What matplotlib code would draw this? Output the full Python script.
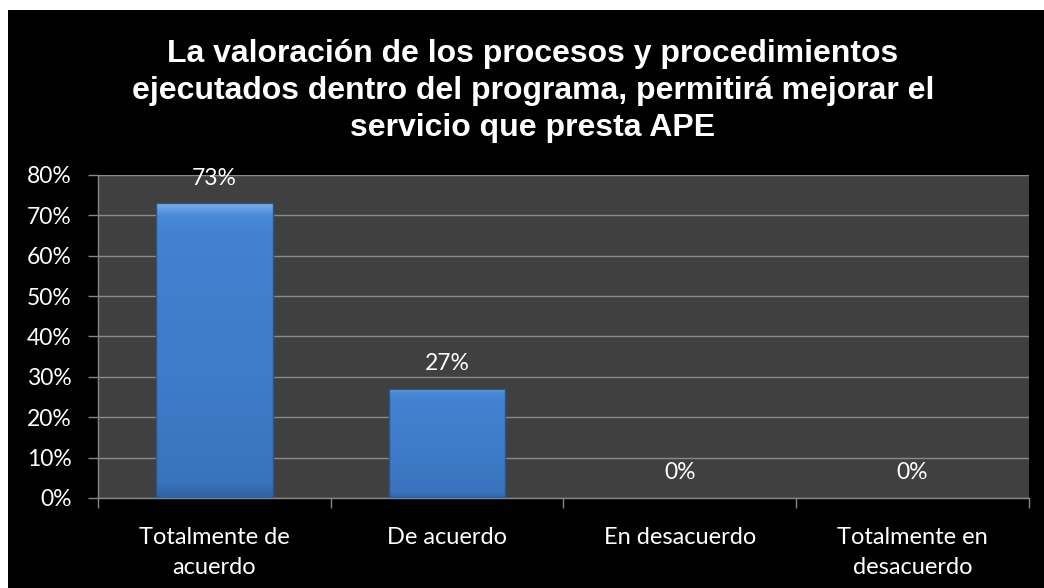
import numpy as np
import matplotlib
matplotlib.use("Agg")
import matplotlib.pyplot as plt
from matplotlib.patches import Rectangle
from matplotlib.ticker import PercentFormatter

# datos del grafico
categorias = ["Totalmente de\nacuerdo", "De acuerdo", "En desacuerdo", "Totalmente en\ndesacuerdo"]
valores = [0.73, 0.27, 0.0, 0.0]
etiquetas = ["73%", "27%", "0%", "0%"]
titulo = ("La valoración de los procesos y procedimientos\n"
          "ejecutados dentro del programa, permitirá mejorar el\n"
          "servicio que presta APE")

plt.rcParams['font.family'] = ['Lato', 'DejaVu Sans']

fig = plt.figure(figsize=(10.44, 5.88), dpi=100, facecolor="white")
# fondo negro del grafico (borde blanco arriba e izquierda)
fig.patches.append(Rectangle((8 / 1044, 0), 1, 1 - 10 / 588, transform=fig.transFigure,
                             facecolor="black", edgecolor="none", zorder=-5))

ax = fig.add_axes([0.0939, 0.1531, 0.8917, 0.5493])
ax.set_facecolor("#404040")

x = np.arange(len(categorias))
barras = ax.bar(x, valores, width=0.5, color="#3f7ecb", edgecolor="#2b5487",
                linewidth=0.8, zorder=3)

# degradado vertical sobre cada barra (efecto bisel de Excel)
grad = np.linspace(0, 1, 256).reshape(-1, 1)
cmap = matplotlib.colors.LinearSegmentedColormap.from_list(
    "azul", [(0, "#7ab0ee"), (0.04, "#4a8ad8"), (0.1, "#4282d0"),
             (0.6, "#3e7bc8"), (0.95, "#3a73bd"), (1, "#31609f")])
for b in barras:
    if b.get_height() <= 0:
        continue
    x0, y0 = b.get_x(), b.get_y()
    w, h = b.get_width(), b.get_height()
    im = ax.imshow(grad, extent=(x0, x0 + w, y0, y0 + h), aspect="auto",
                   cmap=cmap, origin="upper", zorder=3.5,
                   interpolation="bilinear")
    im.set_clip_path(b)
    ax.add_patch(Rectangle((x0, y0), w, h, facecolor="none",
                           edgecolor="#2b5487", linewidth=1.0, zorder=4))

for xi, v, t in zip(x, valores, etiquetas):
    ax.annotate(t, (xi, v), xytext=(0, 18), textcoords="offset points",
                ha="center", va="center", color="white", fontsize=16.5)

ax.set_xlim(-0.5, len(categorias) - 0.5)
ax.set_ylim(0, 0.8)
ax.set_yticks(np.arange(0, 0.81, 0.1))
ax.yaxis.set_major_formatter(PercentFormatter(1.0, decimals=0))
ax.set_xticks(x)
ax.set_xticklabels(categorias, linespacing=1.55)
ax.set_xticks(np.arange(-0.5, len(categorias), 1), minor=True)
ax.tick_params(axis="x", which="major", length=0, pad=21, colors="white", labelsize=17)
ax.tick_params(axis="x", which="minor", length=7, width=1, color="#868686", direction="out")
ax.tick_params(axis="y", length=7, width=1, color="#868686", pad=12,
               labelcolor="white", labelsize=16.5)

ax.grid(axis="y", color="#8a8a8a", linewidth=1, zorder=1)
ax.set_axisbelow(True)
for lado in ["top", "right"]:
    ax.spines[lado].set_visible(False)
for lado in ["left", "bottom"]:
    ax.spines[lado].set_color("#868686")
    ax.spines[lado].set_linewidth(1)

fig.text(0.5105, 1 - 39 / 588, titulo, ha="center", va="top", color="white",
         fontsize=23, fontweight="bold", family=["Liberation Sans", "DejaVu Sans"],
         linespacing=1.3)

fig.savefig("out.png", dpi=100, facecolor=fig.get_facecolor())
